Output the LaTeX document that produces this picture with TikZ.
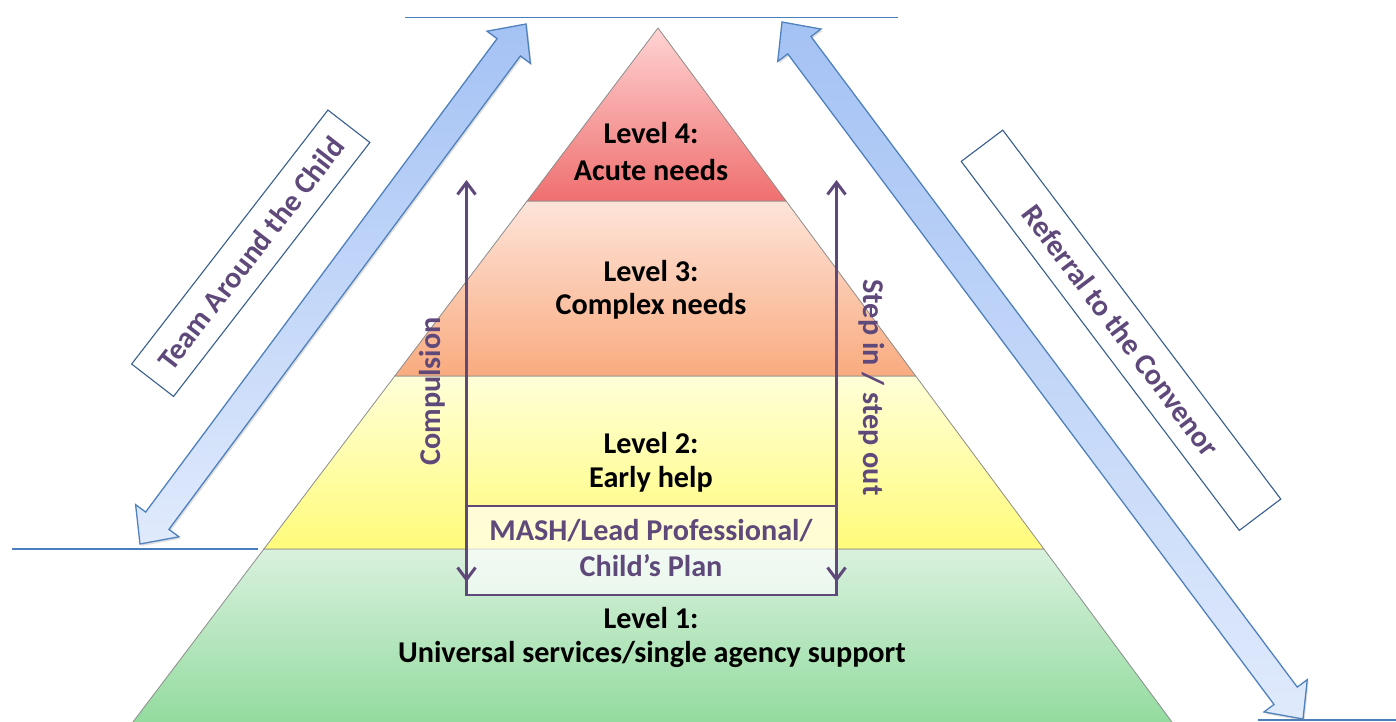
\documentclass[tikz,border=0pt]{standalone}
\usepackage{fontspec}
\setmainfont{Carlito}
\usetikzlibrary{calc,arrows.meta,shadows}

\definecolor{purp}{HTML}{5F497A}
\definecolor{arrTop}{HTML}{A4C2F4}
\definecolor{arrBot}{HTML}{E0EAFC}
\definecolor{arrLine}{HTML}{4F81BD}
\definecolor{ruleblue}{HTML}{4A7EBB}
\definecolor{frameblue}{HTML}{375E8D}
\definecolor{edgegray}{HTML}{8C8C8C}
% level fills (top / bottom of each band)
\definecolor{redTop}{HTML}{FFD3D3}
\definecolor{redBot}{HTML}{EF6F6F}
\definecolor{orgTop}{HTML}{FDE4DA}
\definecolor{orgBot}{HTML}{F9AB7F}
\definecolor{ylwTop}{HTML}{FFFFD8}
\definecolor{ylwBot}{HTML}{FFFB7A}
\definecolor{grnTop}{HTML}{D9F1DE}
\definecolor{grnBot}{HTML}{90DA9C}

% block double arrow geometry
\newcommand{\arrHeadLen}{29pt}
\newcommand{\arrHeadHW}{27pt}
\newcommand{\arrShaftHW}{14.5pt}
\newcommand{\dualarrow}[2]{%
  \coordinate (#1-h) at ($(#1)!\arrHeadLen!(#2)$);
  \coordinate (#2-h) at ($(#2)!\arrHeadLen!(#1)$);
  \path[bigarrow] (#1)
    -- ($(#1-h)!\arrHeadHW!90:(#2)$) -- ($(#1-h)!\arrShaftHW!90:(#2)$)
    -- ($(#2-h)!\arrShaftHW!-90:(#1)$) -- ($(#2-h)!\arrHeadHW!-90:(#1)$)
    -- (#2)
    -- ($(#2-h)!\arrHeadHW!90:(#1)$) -- ($(#2-h)!\arrShaftHW!90:(#1)$)
    -- ($(#1-h)!\arrShaftHW!-90:(#2)$) -- ($(#1-h)!\arrHeadHW!-90:(#2)$)
    -- cycle;}

\tikzset{
  bigarrow/.style={top color=arrTop, bottom color=arrBot, draw=arrLine,
    line width=1.3pt, line join=miter,
    drop shadow={opacity=0.25, shadow xshift=1.5pt, shadow yshift=-2pt}},
  band/.style={draw=edgegray, line width=0.8pt},
  lvltext/.style={font=\fontsize{30.2}{36}\selectfont\bfseries, text=black,
    anchor=base, inner sep=0pt},
  purptext/.style={font=\fontsize{30.2}{36}\selectfont\bfseries, text=purp,
    anchor=base, inner sep=0pt},
  labelbox/.style={draw=frameblue, line width=1.1pt, fill=white, text=purp,
    font=\fontsize{30}{36}\selectfont\bfseries, inner sep=0pt},
  purparrow/.style={draw=purp, line width=3pt,
    {Straight Barb[length=12pt,width=18pt]}-{Straight Barb[length=12pt,width=18pt]}},
  hrule/.style={draw=ruleblue, line width=1.8pt},
}

\begin{document}
\begin{tikzpicture}[x=1pt, y=-1pt]
\useasboundingbox (0,0) rectangle (1396,722);

% pyramid levels
\coordinate (apex) at (658,28);
\coordinate (l4l) at (527.1,201);  \coordinate (l4r) at (786.1,201);
\coordinate (l3l) at (394.8,376);  \coordinate (l3r) at (915.7,376);
\coordinate (l2l) at (263.9,549);  \coordinate (l2r) at (1043.9,549);
\coordinate (l1l) at (126.9,730);  \coordinate (l1r) at (1177.9,730);

\path[band, top color=grnTop, bottom color=grnBot] (l2l) -- (l2r) -- (l1r) -- (l1l) -- cycle;
\path[band, top color=ylwTop, bottom color=ylwBot] (l3l) -- (l3r) -- (l2r) -- (l2l) -- cycle;
\path[band, top color=orgTop, bottom color=orgBot] (l4l) -- (l4r) -- (l3r) -- (l3l) -- cycle;
\path[band, top color=redTop, bottom color=redBot] (apex) -- (l4r) -- (l4l) -- cycle;

% lead professional box
\node[draw=purp, line width=2.5pt, fill=white, fill opacity=0.65,
      minimum width=370pt, minimum height=89pt, inner sep=0pt] (mash) at (651.5,550.5) {};

% level texts
\node[lvltext] (t4a) at (651,144) {Level 4:};
\node[lvltext] (t4b) at (651,181) {Acute needs};
\node[lvltext] (t3a) at (651,281) {Level 3:};
\node[lvltext] (t3b) at (651,314) {Complex needs};
\node[lvltext] (t2a) at (651,453) {Level 2:};
\node[lvltext] (t2b) at (651,487) {Early help};
\node[purptext] (m1) at (651,540) {MASH/Lead Professional/};
\node[purptext] (m2) at (651,576) {Child’s Plan};
\node[lvltext] (t1a) at (651,628) {Level 1:};
\node[lvltext] (t1b) at (652,662) {Universal services/single agency support};

% compulsion / step arrows
\coordinate (cTop) at (466.5,180);  \coordinate (cBot) at (466.5,582);
\coordinate (sTop) at (836.5,180);  \coordinate (sBot) at (836.5,582);
\draw[purparrow] (cTop) -- (cBot);
\draw[purparrow] (sTop) -- (sBot);
\node[purptext, rotate=90] (comp) at (440,391.5) {Compulsion};
\node[purptext, rotate=-90] (step) at (863,387.5) {Step in / step out};

% horizontal rules
\coordinate (topA) at (405,17.5);  \coordinate (topB) at (898,17.5);
\coordinate (midA) at (12,549);    \coordinate (midB) at (258,549);
\coordinate (botA) at (1258,720);  \coordinate (botB) at (1396,720);
\draw[hrule] (topA) -- (topB);
\draw[hrule] (midA) -- (midB);
\draw[hrule] (botA) -- (botB);

% big block arrows
\coordinate (tacLow) at (140,544);  \coordinate (tacHigh) at (526,24);
\coordinate (refHigh) at (782,22);  \coordinate (refLow) at (1303,719);
\dualarrow{tacLow}{tacHigh}
\dualarrow{refHigh}{refLow}

% side labels
\node[labelbox, rotate=52.3, minimum width=321pt, minimum height=53pt] (tac)
  at (250.75,253.25) {Team Around the Child};
\node[labelbox, rotate=-53, minimum width=462pt, minimum height=52pt] (ref)
  at (1121,330.25) {Referral to the Convenor};
\end{tikzpicture}
\end{document}
